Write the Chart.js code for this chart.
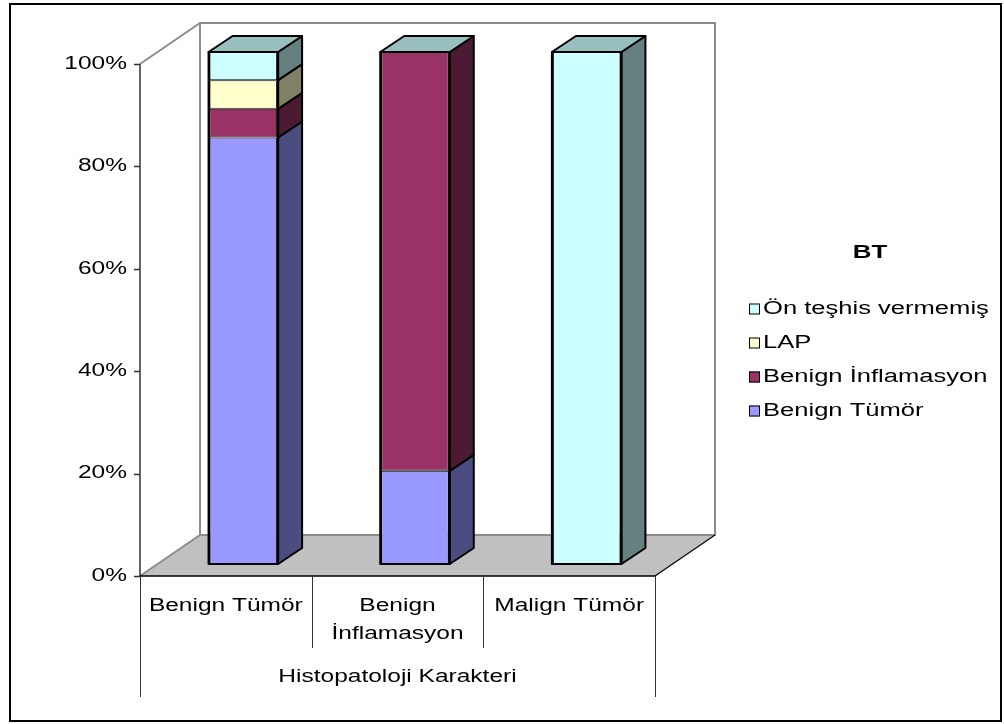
<!DOCTYPE html>
<html>
<head>
<meta charset="utf-8">
<script src="https://cdn.jsdelivr.net/npm/chart.js@4/dist/chart.umd.min.js"></script>
<style>
  html, body { margin: 0; padding: 0; background: #fff; }
  #wrap { width: 1004px; height: 724px; }
</style>
</head>
<body>
<div id="wrap"><canvas id="c" width="1004" height="724"></canvas></div>
<script>
// Categories (multi-line labels) and axis / legend titles
const categories = [['Benign Tümör'], ['Benign', 'İnflamasyon'], ['Malign Tümör']];
const axisTitle = 'Histopatoloji Karakteri';
const legendTitle = 'BT';

// Series, as percent of each column
const benignTumor       = [83.3, 18.2, 0];
const benignInflamasyon = [5.6, 81.8, 0];
const lap               = [5.6, 0, 0];
const onTeshis          = [5.5, 0, 100];

// Value-axis tick labels
const yTicks = [0, 20, 40, 60, 80, 100];

const seriesNames = ['Benign Tümör', 'Benign İnflamasyon', 'LAP', 'Ön teşhis vermemiş'];
const seriesData = [benignTumor, benignInflamasyon, lap, onTeshis];
const frontColors = ['#9999FF', '#993366', '#FFFFCC', '#CCFFFF'];
const sideColors  = ['#4C4C80', '#4D1A33', '#808066', '#668080'];
const topColors   = ['#7373BF', '#73264D', '#BFBF99', '#99BFBF'];

// 3D geometry: column offset from the front plane, column depth, wall depth
const COL = { dx: 17.5, dy: -12 };
const DEPTH = { dx: 24, dy: -16 };
const WALL = { dx: 60, dy: -41 };

const FONT = '"Liberation Sans", Arial, sans-serif';
const FSIZE = 17.5;
const SX = 1.4;

function stretchedText(ctx, text, x, y, align, font, sx) {
  ctx.save();
  ctx.font = font || (FSIZE + 'px ' + FONT);
  ctx.fillStyle = '#000';
  ctx.textAlign = align;
  ctx.textBaseline = 'middle';
  ctx.translate(x, y);
  ctx.scale(sx || SX, 1);
  ctx.fillText(text, 0, 0);
  ctx.restore();
}

function poly(ctx, pts, fill, stroke, lw) {
  ctx.beginPath();
  ctx.moveTo(pts[0][0], pts[0][1]);
  for (let i = 1; i < pts.length; i++) ctx.lineTo(pts[i][0], pts[i][1]);
  ctx.closePath();
  if (fill) { ctx.fillStyle = fill; ctx.fill(); }
  if (stroke) { ctx.strokeStyle = stroke; ctx.lineWidth = lw; ctx.stroke(); }
}

const scene3d = {
  id: 'scene3d',
  beforeDraw(chart) {
    const ctx = chart.ctx;
    ctx.save();
    ctx.fillStyle = '#fff';
    ctx.fillRect(0, 0, chart.width, chart.height);
    ctx.restore();
  },
  beforeDatasetsDraw(chart) {
    const ctx = chart.ctx;
    const a = chart.chartArea;
    ctx.save();
    ctx.lineJoin = 'miter';
    // back wall
    poly(ctx, [[a.left + WALL.dx, a.top + WALL.dy], [a.right + WALL.dx, a.top + WALL.dy],
               [a.right + WALL.dx, a.bottom + WALL.dy], [a.left + WALL.dx, a.bottom + WALL.dy]],
         '#fff', '#8C8C8C', 2);
    // floor
    poly(ctx, [[a.left, a.bottom], [a.right, a.bottom],
               [a.right + WALL.dx, a.bottom + WALL.dy], [a.left + WALL.dx, a.bottom + WALL.dy]],
         '#C0C0C0', null, 0);
    ctx.strokeStyle = '#8C8C8C';
    ctx.lineWidth = 2;
    ctx.beginPath();
    ctx.moveTo(a.left, a.bottom); ctx.lineTo(a.left + WALL.dx, a.bottom + WALL.dy);
    ctx.moveTo(a.left, a.top); ctx.lineTo(a.left + WALL.dx, a.top + WALL.dy);
    ctx.moveTo(a.left + WALL.dx, a.bottom + WALL.dy); ctx.lineTo(a.right + WALL.dx, a.bottom + WALL.dy);
    ctx.stroke();
    ctx.strokeStyle = '#000';
    ctx.lineWidth = 1.2;
    ctx.beginPath();
    ctx.moveTo(a.right, a.bottom); ctx.lineTo(a.right + WALL.dx, a.bottom + WALL.dy);
    ctx.stroke();
    ctx.restore();
    // columns are drawn set back from the front plane
    ctx.save();
    ctx.translate(COL.dx, COL.dy);
  },
  afterDatasetsDraw(chart) {
    const ctx = chart.ctx;
    ctx.lineJoin = 'round';
    const n = chart.data.datasets.length;
    // side faces
    for (let d = 0; d < n; d++) {
      const meta = chart.getDatasetMeta(d);
      meta.data.forEach((el) => {
        const p = el.getProps(['x', 'y', 'base', 'width'], true);
        if (Math.abs(p.base - p.y) < 0.5) return;
        const xr = p.x + p.width / 2;
        poly(ctx, [[xr, p.y], [xr + DEPTH.dx, p.y + DEPTH.dy],
                   [xr + DEPTH.dx, p.base + DEPTH.dy], [xr, p.base]],
             sideColors[d], '#000', 2);
      });
    }
    // top caps at the top of each stack
    const topMeta = chart.getDatasetMeta(n - 1);
    topMeta.data.forEach((el) => {
      const p = el.getProps(['x', 'y', 'width'], true);
      const xl = p.x - p.width / 2, xr = p.x + p.width / 2;
      poly(ctx, [[xl, p.y], [xl + DEPTH.dx, p.y + DEPTH.dy],
                 [xr + DEPTH.dx, p.y + DEPTH.dy], [xr, p.y]],
           topColors[n - 1], '#000', 2);
    });
    // crisp outline of each column's front face
    chart.getDatasetMeta(0).data.forEach((el, i) => {
      const p0 = el.getProps(['x', 'base', 'width'], true);
      const pt = topMeta.data[i].getProps(['y'], true);
      ctx.strokeStyle = '#000';
      ctx.lineWidth = 2;
      ctx.strokeRect(p0.x - p0.width / 2, pt.y, p0.width, p0.base - pt.y);
    });
    ctx.restore();
  },
  afterDraw(chart) {
    const ctx = chart.ctx;
    const a = chart.chartArea;
    const ys = chart.scales.y;
    const xs = chart.scales.x;
    ctx.save();
    // value axis
    ctx.strokeStyle = '#333';
    ctx.lineWidth = 1.5;
    ctx.beginPath();
    ctx.moveTo(a.left, a.top); ctx.lineTo(a.left, a.bottom);
    yTicks.forEach((v) => {
      const y = Math.round(ys.getPixelForValue(v)) + 0.5;
      ctx.moveTo(a.left - 6, y); ctx.lineTo(a.left, y);
    });
    ctx.stroke();
    yTicks.forEach((v) => {
      stretchedText(ctx, v + '%', a.left - 13, ys.getPixelForValue(v), 'right');
    });
    // category axis
    ctx.strokeStyle = '#000';
    ctx.lineWidth = 1.5;
    ctx.beginPath();
    ctx.moveTo(a.left, a.bottom); ctx.lineTo(a.right, a.bottom);
    ctx.stroke();
    const band = (a.right - a.left) / categories.length;
    ctx.strokeStyle = '#333';
    ctx.lineWidth = 1;
    ctx.beginPath();
    for (let k = 0; k <= categories.length; k++) {
      const x = Math.round(a.left + k * band) + 0.5;
      const outer = (k === 0 || k === categories.length);
      ctx.moveTo(x, a.bottom); ctx.lineTo(x, outer ? a.bottom + 121 : a.bottom + 72);
    }
    ctx.stroke();
    categories.forEach((lines, i) => {
      const cx = xs.getPixelForValue(i);
      lines.forEach((t, j) => stretchedText(ctx, t, cx, a.bottom + 30 + j * 28, 'center'));
    });
    stretchedText(ctx, axisTitle, (a.left + a.right) / 2, a.bottom + 101, 'center');
    // legend
    stretchedText(ctx, legendTitle, 870, 253, 'center', 'bold ' + (FSIZE + 1) + 'px ' + FONT);
    const rows = chart.data.datasets.map((ds, i) => i).reverse();
    rows.forEach((d, r) => {
      const y = 309 + r * 34;
      ctx.fillStyle = chart.data.datasets[d].backgroundColor;
      ctx.fillRect(749, y - 5.5, 11, 11);
      ctx.strokeStyle = '#000';
      ctx.lineWidth = 1;
      ctx.strokeRect(749.5, y - 5, 10, 10);
      stretchedText(ctx, chart.data.datasets[d].label, 763, y, 'left', (FSIZE + 0.5) + 'px ' + FONT, 1.42);
    });
    // chart frame
    ctx.strokeStyle = '#000';
    ctx.lineWidth = 2;
    ctx.strokeRect(10, 4, 991, 717);
    ctx.restore();
  }
};

new Chart(document.getElementById('c'), {
  type: 'bar',
  data: {
    labels: categories,
    datasets: seriesNames.map((name, i) => ({
      label: name,
      data: seriesData[i],
      backgroundColor: frontColors[i],
      borderColor: '#000',
      borderWidth: { left: 2, right: 2, top: 1, bottom: 1 },
      borderSkipped: false,
      categoryPercentage: 1,
      barPercentage: 0.405,
      clip: false
    }))
  },
  options: {
    responsive: false,
    devicePixelRatio: 1,
    animation: false,
    layout: { padding: { left: 140, top: 64, right: 349, bottom: 148 } },
    scales: {
      x: { display: false, stacked: true },
      y: { display: false, stacked: true, min: 0, max: 100 }
    },
    plugins: { legend: { display: false }, tooltip: { enabled: false } }
  },
  plugins: [scene3d]
});
</script>
</body>
</html>
